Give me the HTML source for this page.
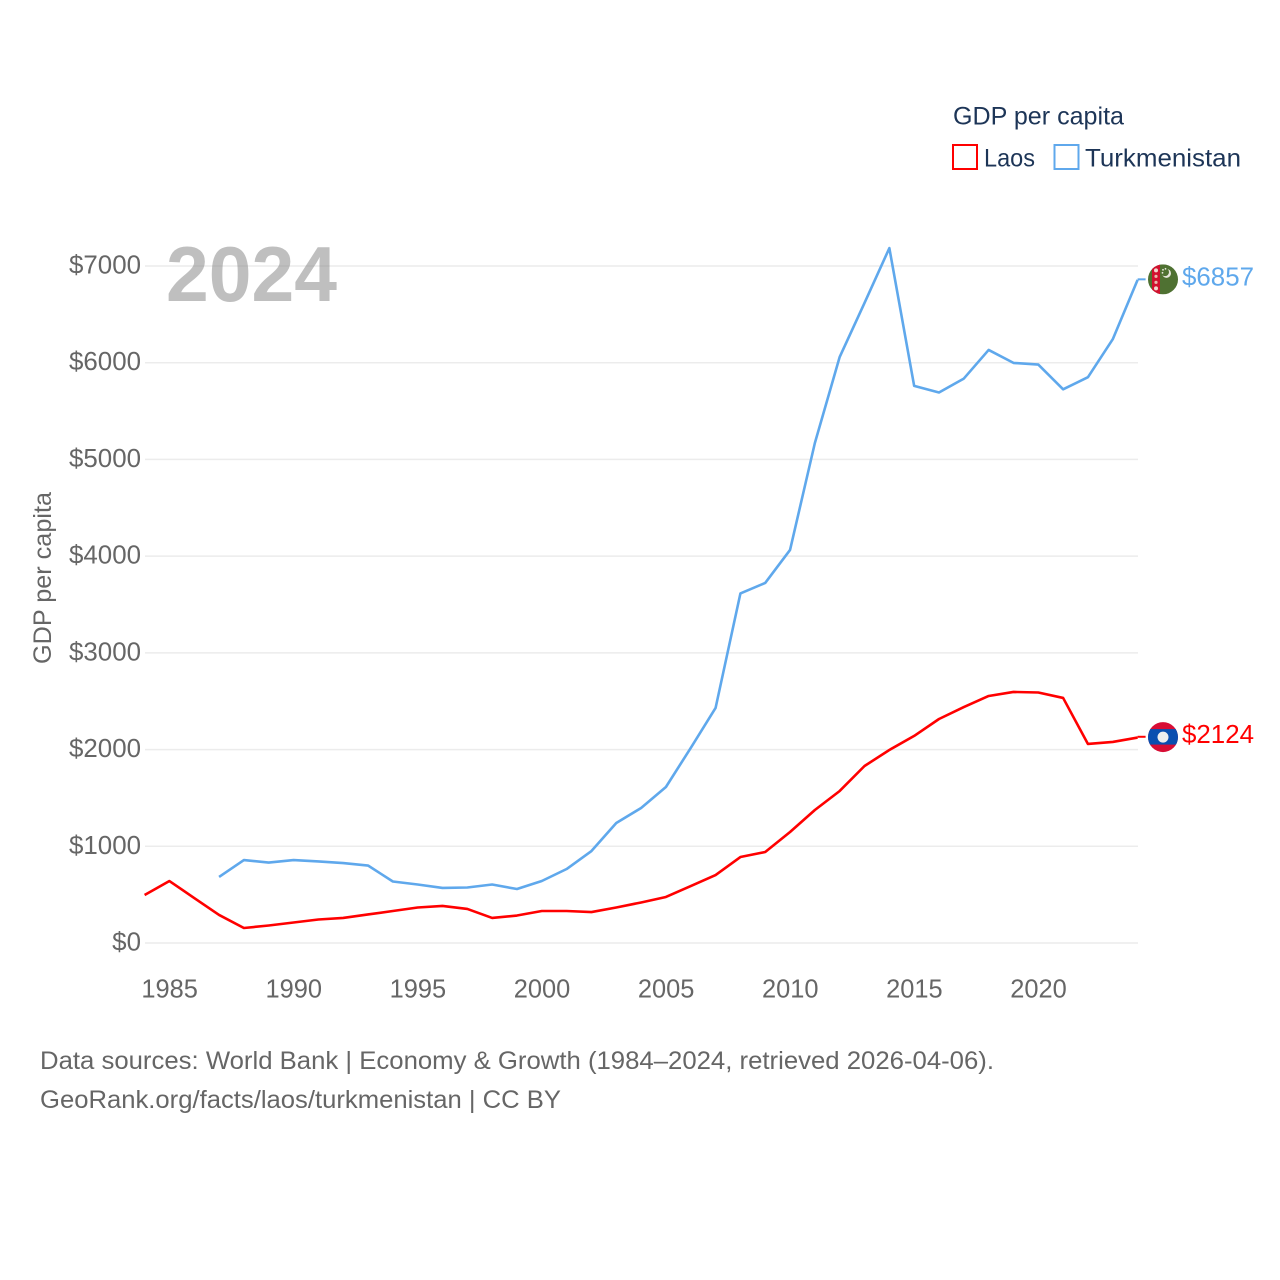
<!DOCTYPE html>
<html lang="en">
<head>
<meta charset="utf-8">
<title>GDP per capita: Laos and Turkmenistan</title>
<style>
html,body{margin:0;padding:0;background:#fff;}
svg{display:block;}
text{font-family:"Liberation Sans",sans-serif;}
</style>
</head>
<body>
<svg id="chart" xmlns="http://www.w3.org/2000/svg" width="1280" height="1280" viewBox="0 0 1280 1280">
  <defs>
    <clipPath id="flag-clip-tm"><circle cx="0" cy="0" r="15"/></clipPath>
    <clipPath id="flag-clip-la"><circle cx="0" cy="0" r="15"/></clipPath>
  </defs>
  <rect x="0" y="0" width="1280" height="1280" fill="#ffffff"/>
  <g id="grid"></g>
  <text x="166" y="301" font-size="78" font-weight="700" fill="rgba(128,128,128,0.5)" textLength="171" lengthAdjust="spacingAndGlyphs">2024</text>
  <g id="y-ticks"></g>
  <g id="x-ticks"></g>
  <text transform="translate(51,664) rotate(-90)" font-size="25" fill="#666666" textLength="172" lengthAdjust="spacingAndGlyphs">GDP per capita</text>
  <g id="series"></g>

  <g id="flag-tm">
    <g clip-path="url(#flag-clip-tm)">
      <rect x="-15" y="-15" width="30" height="30" fill="#4f7132"/>
      <rect x="-11" y="-15" width="8" height="30" fill="#d2112f"/>
      <circle cx="-7" cy="-9" r="2" fill="#f1d9d0"/>
      <circle cx="-7" cy="-3" r="1.6" fill="#e8b9ac"/>
      <circle cx="-7" cy="3" r="1.6" fill="#e8b9ac"/>
      <circle cx="-7" cy="9" r="2" fill="#f1d9d0"/>
      <circle cx="3.5" cy="-6" r="4.5" fill="#e6e6dc"/>
      <circle cx="2" cy="-7.2" r="4" fill="#4f7132"/>
      <circle cx="0" cy="-9.5" r="0.9" fill="#e6e6dc"/>
      <circle cx="-0.5" cy="-6.5" r="0.9" fill="#e6e6dc"/>
      <circle cx="2.5" cy="-10.5" r="0.9" fill="#e6e6dc"/>
    </g>
  </g>
  <g id="flag-la">
    <g clip-path="url(#flag-clip-la)">
      <rect x="-15" y="-16" width="30" height="32" fill="#d80d35"/>
      <rect x="-15" y="-8" width="30" height="15.5" fill="#0a4fb0"/>
      <circle cx="0" cy="0" r="5.5" fill="#eeeeee"/>
    </g>
  </g>
  <text id="label-tm" x="1182" font-size="25.5" fill="#5fa8ec" textLength="72" lengthAdjust="spacingAndGlyphs"></text>
  <text id="label-la" x="1182" font-size="25.5" fill="#ff0000" textLength="72" lengthAdjust="spacingAndGlyphs"></text>

  <g>
    <text x="953" y="124.5" font-size="25" fill="#1d3557" textLength="171" lengthAdjust="spacingAndGlyphs">GDP per capita</text>
    <rect x="953" y="145" width="24" height="24" fill="none" stroke="#ff0000" stroke-width="2"/>
    <text x="984" y="166.5" font-size="25" fill="#1d3557" textLength="51" lengthAdjust="spacingAndGlyphs">Laos</text>
    <rect x="1054.5" y="145" width="24" height="24" fill="none" stroke="#5fa8ec" stroke-width="2"/>
    <text x="1085" y="166.5" font-size="25" fill="#1d3557" textLength="156" lengthAdjust="spacingAndGlyphs">Turkmenistan</text>
  </g>

  <text x="40" y="1069" font-size="25" fill="#666666" textLength="954" lengthAdjust="spacingAndGlyphs">Data sources: World Bank | Economy &amp; Growth (1984–2024, retrieved 2026-04-06).</text>
  <text x="40" y="1108" font-size="25" fill="#666666" textLength="521" lengthAdjust="spacingAndGlyphs">GeoRank.org/facts/laos/turkmenistan | CC BY</text>
</svg>
<script>
var years = [1984,1985,1986,1987,1988,1989,1990,1991,1992,1993,1994,1995,1996,1997,1998,1999,2000,2001,2002,2003,2004,2005,2006,2007,2008,2009,2010,2011,2012,2013,2014,2015,2016,2017,2018,2019,2020,2021,2022,2023,2024];
var laosValues = [496,641,465,290,155,181,212,243,259,295,331,367,383,352,259,284,331,331,320,367,419,476,589,703,889,941,1148,1375,1572,1830,1996,2141,2316,2440,2554,2596,2590,2534,2058,2079,2124];
var turkmenistanValues = [null,null,null,683,858,832,858,843,827,801,636,605,569,574,605,558,641,765,951,1241,1396,1613,2017,2430,3614,3723,4064,5170,6060,6618,7185,5760,5692,5836,6132,5998,5981,5725,5850,6243,6857];
var yTickValues = [0,1000,2000,3000,4000,5000,6000,7000];
var xTickValues = [1985,1990,1995,2000,2005,2010,2015,2020];

var SVG_NS = 'http://www.w3.org/2000/svg';
function xScale(year) { return 144.6 + (year - 1984) * (1137.6 - 144.6) / 40; }
function yScale(value) { return 943 - value * (943 - 266) / 7000; }

function make(tag, attrs, parent) {
  var el = document.createElementNS(SVG_NS, tag);
  for (var k in attrs) { el.setAttribute(k, attrs[k]); }
  parent.appendChild(el);
  return el;
}

var gridGroup = document.getElementById('grid');
var yTickGroup = document.getElementById('y-ticks');
yTickValues.forEach(function (v) {
  var line = make('line', {x1: 145, x2: 1138, y1: yScale(v), y2: yScale(v), stroke: '#ececec', 'stroke-width': 1.5}, gridGroup);
  
  
  var tickText = '$' + v;
  var label = make('text', {x: 141, y: yScale(v) + 7.5, 'text-anchor': 'end', 'font-size': 25.5, fill: '#666666', textLength: tickText.length * 14.4, lengthAdjust: 'spacingAndGlyphs'}, yTickGroup);
  label.textContent = tickText;
  
  
});

var xTickGroup = document.getElementById('x-ticks');
xTickValues.forEach(function (year) {
  var label = make('text', {x: xScale(year) + 0.2, y: 997.5, 'text-anchor': 'middle', 'font-size': 25.5, fill: '#666666', textLength: 56.5, lengthAdjust: 'spacingAndGlyphs'}, xTickGroup);
  label.textContent = year;
  
  
});

function linePath(values) {
  var d = '';
  var pen = false;
  values.forEach(function (v, i) {
    if (v === null) { pen = false; return; }
    d += (pen ? 'L' : 'M') + xScale(years[i]).toFixed(2) + ' ' + yScale(v).toFixed(2);
    pen = true;
  });
  return d;
}

var seriesGroup = document.getElementById('series');

var laosLine = make('path', {d: linePath(laosValues), fill: 'none', stroke: '#ff0000', 'stroke-width': 2.6, 'stroke-linejoin': 'round'}, seriesGroup);



var turkmenistanLine = make('path', {d: linePath(turkmenistanValues), fill: 'none', stroke: '#5fa8ec', 'stroke-width': 2.6, 'stroke-linejoin': 'round'}, seriesGroup);



function lastValue(values) { return values[values.length - 1]; }
var lastX = xScale(years[years.length - 1]);

var laosEndY = yScale(lastValue(laosValues));
var turkmenistanEndY = yScale(lastValue(turkmenistanValues));

var laosLeader = make('line', {x1: lastX, x2: lastX + 8, y1: laosEndY - 0.8, y2: laosEndY - 0.8, stroke: '#ff0000', 'stroke-width': 2}, seriesGroup);



var turkmenistanLeader = make('line', {x1: lastX, x2: lastX + 8, y1: turkmenistanEndY - 0.5, y2: turkmenistanEndY - 0.5, stroke: '#5fa8ec', 'stroke-width': 2}, seriesGroup);



document.getElementById('flag-tm').setAttribute('transform', 'translate(1163,' + (turkmenistanEndY - 0.5) + ')');
document.getElementById('flag-la').setAttribute('transform', 'translate(1163,' + (laosEndY - 0.5) + ')');

var labelTm = document.getElementById('label-tm');
labelTm.setAttribute('y', turkmenistanEndY + 5.5);
labelTm.textContent = '$' + lastValue(turkmenistanValues);

var labelLa = document.getElementById('label-la');
labelLa.setAttribute('y', laosEndY + 5.5);
labelLa.textContent = '$' + lastValue(laosValues);
</script>
</body>
</html>
